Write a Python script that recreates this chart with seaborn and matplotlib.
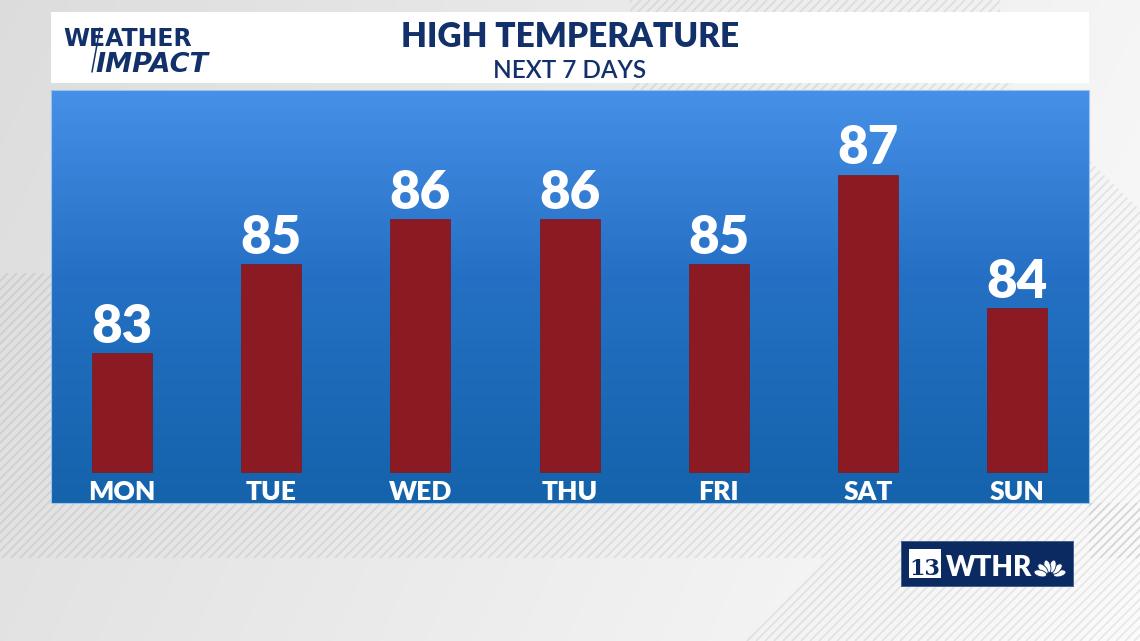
import numpy as np
import pandas as pd
import matplotlib
matplotlib.use("Agg")
import matplotlib.pyplot as plt
from matplotlib.patches import Rectangle, Polygon, Ellipse
from matplotlib.collections import LineCollection
from matplotlib.colors import to_rgb
import seaborn as sns

# ---------------- data ----------------
days = ["MON", "TUE", "WED", "THU", "FRI", "SAT", "SUN"]
highs = [83, 85, 86, 86, 85, 87, 84]
title = "HIGH TEMPERATURE"
subtitle = "NEXT 7 DAYS"

sns.set_theme(style="white")
plt.rcParams["font.family"] = ["Lato", "DejaVu Sans"]

W, H = 1140, 641
fig = plt.figure(figsize=(W / 100, H / 100), dpi=100)

# background axes in pixel coordinates
bg = fig.add_axes([0, 0, 1, 1])
bg.set_xlim(0, W)
bg.set_ylim(H, 0)
bg.axis("off")

# grey gradient background
xx, yy = np.meshgrid(np.linspace(0, 1, 240), np.linspace(0, 1, 140))
val = 0.865 + 0.095 * xx + 0.025 * yy
bg.imshow(np.dstack([val, val, val]), extent=[0, W, H, 0], aspect="auto", zorder=0,
          interpolation="bilinear")

# diagonal stripe regions
def stripes(poly, zorder=1):
    patch = Polygon(poly, closed=True, transform=bg.transData, facecolor="none", edgecolor="none")
    bg.add_patch(patch)
    segs = []
    for c in np.arange(-900, 1800, 9):
        segs.append([(c, H), (c + H, 0)])
    lc = LineCollection(segs, colors=[(0, 0, 0, 0.075)], linewidths=1.3, zorder=zorder)
    bg.add_collection(lc)
    lc.set_clip_path(patch)

stripes([(0, 503), (W, 503), (W, 558), (0, 558)])
stripes([(0, 273), (51, 273), (51, 503), (0, 503)])
stripes([(1089, 160), (W, 210), (W, H), (740, H), (823, 558), (1089, 558)])
stripes([(630, 0), (1000, 0), (1000, 12), (630, 12)])
stripes([(630, 83), (1010, 83), (1010, 90), (630, 90)])

# title box
bg.add_patch(Rectangle((51, 12), 1038, 71, facecolor="white", edgecolor="none", zorder=2))
navy = "#12306A"
bg.text(570, 47, title, ha="center", va="baseline", fontsize=24, fontweight="heavy",
        color=navy, zorder=3)
bg.text(570, 77.5, subtitle, ha="center", va="baseline", fontsize=17.5, fontweight="semibold",
        color=navy, zorder=3)

# Weather Impact logo
bg.text(63, 46, "WEATHER", ha="left", va="baseline", fontsize=17, fontweight="bold",
        family="DejaVu Sans", color=navy, zorder=3)
bg.text(95, 72, "IMPACT", ha="left", va="baseline", fontsize=19.5, fontweight="black",
        style="italic", family="DejaVu Sans", color=navy, zorder=3)
bg.plot([100, 92], [28, 72], color=navy, lw=1.1, zorder=3)

# blue gradient panel
top = np.array(to_rgb("#4690E8"))
mid = np.array(to_rgb("#2570C4"))
bot = np.array(to_rgb("#1463AB"))
t = np.linspace(0, 1, 300)[:, None]
col = np.where(t < 0.45, top + (mid - top) * (t / 0.45), mid + (bot - mid) * ((t - 0.45) / 0.55))
grad = np.repeat(col[:, None, :], 2, axis=1)
bg.imshow(grad, extent=[51, 1089, 503, 90], aspect="auto", zorder=2, interpolation="bilinear")
bg.add_patch(Rectangle((51, 90), 1038, 413, facecolor="none", edgecolor="#9CC3F0",
                       lw=0.8, zorder=2.5))

# WTHR logo
bg.add_patch(Rectangle((901, 541), 172, 45, facecolor="#0B2A62", edgecolor="#3C5A8E",
                       lw=0.6, zorder=3))
bg.add_patch(Rectangle((909, 549), 32, 29, facecolor="white", edgecolor="none", zorder=4))
bg.text(925, 575, "13", ha="center", va="baseline", fontsize=16, fontweight="bold",
        family="DejaVu Serif", color="#0B2A62", zorder=5)
bg.text(946, 576, "WTHR", ha="left", va="baseline", fontsize=20, fontweight="heavy",
        color="white", zorder=5)
cx, cy = 1050, 576
for ang in np.linspace(15, 165, 6):
    r = np.deg2rad(ang)
    ex, ey = cx + 10 * np.cos(r), cy - 10 * np.sin(r)
    bg.add_patch(Ellipse((ex, ey), 13, 6.5, angle=-ang, facecolor="white",
                         edgecolor="#0B2A62", lw=0.6, zorder=5))

# ---------------- bar chart ----------------
base = 80.33
df = pd.DataFrame({"day": days, "high": highs})
df["rise"] = df["high"] - base

ax = fig.add_axes([51 / W, (H - 503) / H, 1038 / W, 413 / H])
ax.patch.set_alpha(0)
sns.barplot(data=df, x="day", y="rise", color="#8B1A22", saturation=1, width=0.402,
            edgecolor="#7A1820", linewidth=0.5, ax=ax, zorder=3)
ax.set_xlim(-0.476, 6.481)
ax.set_ylim(-0.695, 8.565)
ax.axis("off")

for i, (d, v, r) in enumerate(zip(df["day"], df["high"], df["rise"])):
    ax.annotate(str(v), (i, r), xytext=(0, 7.3), textcoords="offset points",
                ha="center", va="baseline", fontsize=38, fontweight="heavy", color="white")
    ax.text(i, -0.628, d, ha="center", va="baseline", fontsize=19, fontweight="heavy",
            color="white")

fig.savefig("out.png", dpi=100)
